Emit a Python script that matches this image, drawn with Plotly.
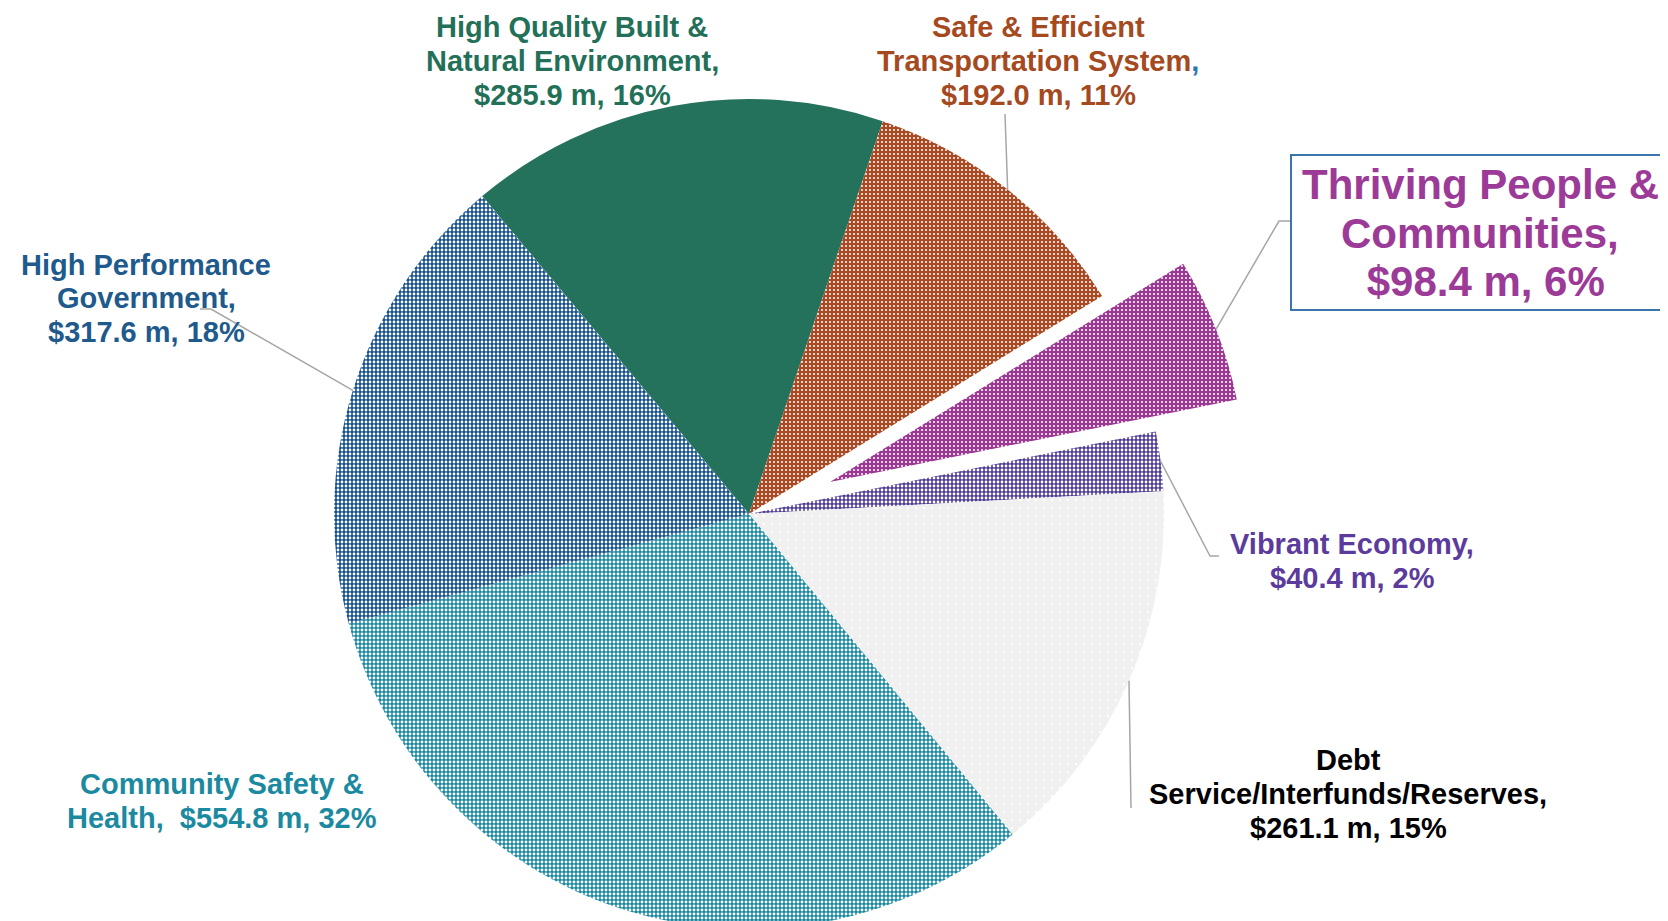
import math
import plotly.graph_objects as go

# ---------------- data ----------------
categories = [
    "High Quality Built & Natural Environment",
    "Safe & Efficient Transportation System",
    "Thriving People & Communities",
    "Vibrant Economy",
    "Debt Service/Interfunds/Reserves",
    "Community Safety & Health",
    "High Performance Government",
]
values = [285.9, 192.0, 98.4, 40.4, 261.1, 554.8, 317.6]  # $ millions
label_lines = [
    ["High Quality Built &", "Natural Environment,", "{v}"],
    ["Safe & Efficient", "Transportation System<span style='color:#2E75B6'>,</span>", "{v}"],
    ["Thriving People &", "Communities,", " {v}"],
    ["Vibrant Economy,", "{v}"],
    ["Debt", "Service/Interfunds/Reserves,", "{v}"],
    ["Community Safety &", "Health,&nbsp; {v}"],
    ["High Performance", "Government,", "{v}"],
]
pulled_category = "Thriving People & Communities"

# ---------------- styles ----------------
slice_colors = ["#25725C", "#A84A24", "#9A3A92", "#503C96", "#F0F0F0", "#15879F", "#14508A"]
text_colors = ["#237059", "#A5491E", "#9B3A97", "#5B3B9C", "#000000", "#1B8AA0", "#1F5A8C"]
pattern_shapes = ["", ".", ".", ".", ".", ".", "."]
pattern_sizes = [4, 4, 4, 4, 8, 4, 4]
pattern_solidity = [0.2, 0.2, 0.2, 0.38, 0.08, 0.42, 0.38]
label_sizes = [29, 29, 42, 29, 29, 29, 29]
line_gaps = [34, 34, 48, 34, 34, 34, 34]

# ---------------- layout geometry (pixels) ----------------
W, H = 1668, 921
CX, CY, R = 741, 506, 415
ROTATION = -40.0
PULL = 0.21
label_centers = [(564, 52.5), (1030, 52.5), (1472, 225), (1344, 553), (1340, 786), (214, 793), (138, 290.5)]
box_px = (1283, 147, 1662, 302)
leader_points = [
    [],
    [(997, 106)],
    [(1271, 213), (1283, 213)],
    [(1202, 548), (1211, 548)],
    [(1123, 800)],
    [],
    [(203, 301), (192, 301)],
]


def fx(x):
    return x / W


def fy(y):
    return 1 - y / H


total = sum(values)
pcts = [round(v / total * 100) for v in values]
value_texts = [f"${v:.1f} m, {p}%" for v, p in zip(values, pcts)]

# mid angles (deg, clockwise from 12 o'clock)
mid_angles = []
cum = 0.0
for v in values:
    mid_angles.append(ROTATION + 360.0 * (cum + v / 2) / total)
    cum += v

pi = categories.index(pulled_category)
a = math.radians(mid_angles[pi])
pdx = PULL * R * math.sin(a)
pdy = -PULL * R * math.cos(a)

dom_x = [fx(CX - R), fx(CX + R)]
dom_y = [max(0.0, fy(CY + R)), fy(CY - R)]

fig = go.Figure()

# main pie, pulled slice left empty
main_colors = [("rgba(0,0,0,0)" if c == pulled_category else col) for c, col in zip(categories, slice_colors)]
main_shapes = [("" if c == pulled_category else s) for c, s in zip(categories, pattern_shapes)]
fig.add_trace(go.Pie(
    labels=categories, values=values, sort=False, direction="clockwise", rotation=ROTATION,
    textinfo="none", hoverinfo="label+value+percent",
    marker=dict(colors=main_colors, line=dict(width=0),
                pattern=dict(shape=main_shapes, size=pattern_sizes, solidity=pattern_solidity,
                             fgcolor="white", bgcolor=main_colors, fillmode="replace")),
    domain=dict(x=dom_x, y=dom_y), showlegend=False,
))

# pulled-out slice
pull_colors = [(col if c == pulled_category else "rgba(0,0,0,0)") for c, col in zip(categories, slice_colors)]
pull_shapes = [(s if c == pulled_category else "") for c, s in zip(categories, pattern_shapes)]
fig.add_trace(go.Pie(
    labels=categories, values=values, sort=False, direction="clockwise", rotation=ROTATION,
    textinfo="none", hoverinfo="skip",
    marker=dict(colors=pull_colors, line=dict(width=0),
                pattern=dict(shape=pull_shapes, size=pattern_sizes, solidity=pattern_solidity,
                             fgcolor="white", bgcolor=pull_colors, fillmode="replace")),
    domain=dict(x=[dom_x[0] + pdx / W, dom_x[1] + pdx / W], y=[dom_y[0] - pdy / H, dom_y[1] - pdy / H]),
    showlegend=False,
))

# leader lines
shapes = []
for i, pts in enumerate(leader_points):
    if not pts:
        continue
    ang = math.radians(mid_angles[i])
    px0 = CX + R * math.sin(ang)
    py0 = CY - R * math.cos(ang)
    if categories[i] == pulled_category:
        px0 += pdx
        py0 += pdy
    path = f"M {fx(px0)},{fy(py0)}" + "".join(f" L {fx(x)},{fy(y)}" for x, y in pts)
    shapes.append(dict(type="path", xref="paper", yref="paper", path=path,
                       line=dict(color="#A6A6A6", width=1.5)))

# box around the highlighted label
shapes.append(dict(type="rect", xref="paper", yref="paper",
                   x0=fx(box_px[0]), x1=fx(box_px[2]), y0=fy(box_px[3]), y1=fy(box_px[1]),
                   line=dict(color="#3A75AE", width=2), fillcolor="rgba(0,0,0,0)"))

annotations = []
for i, lines in enumerate(label_lines):
    cx, cy = label_centers[i]
    n = len(lines)
    for j, line in enumerate(lines):
        ly = cy + (j - (n - 1) / 2) * line_gaps[i]
        annotations.append(dict(
            text=line.format(v=value_texts[i]), x=fx(cx), y=fy(ly), xref="paper", yref="paper",
            xanchor="center", yanchor="middle", showarrow=False, align="center",
            font=dict(family="Liberation Sans, Arial, sans-serif", size=label_sizes[i],
                      color=text_colors[i], weight="bold")))

fig.update_layout(
    width=W, height=H, margin=dict(l=0, r=0, t=0, b=0),
    paper_bgcolor="white", plot_bgcolor="white",
    shapes=shapes, annotations=annotations, showlegend=False,
)

fig.write_html("out.html")
